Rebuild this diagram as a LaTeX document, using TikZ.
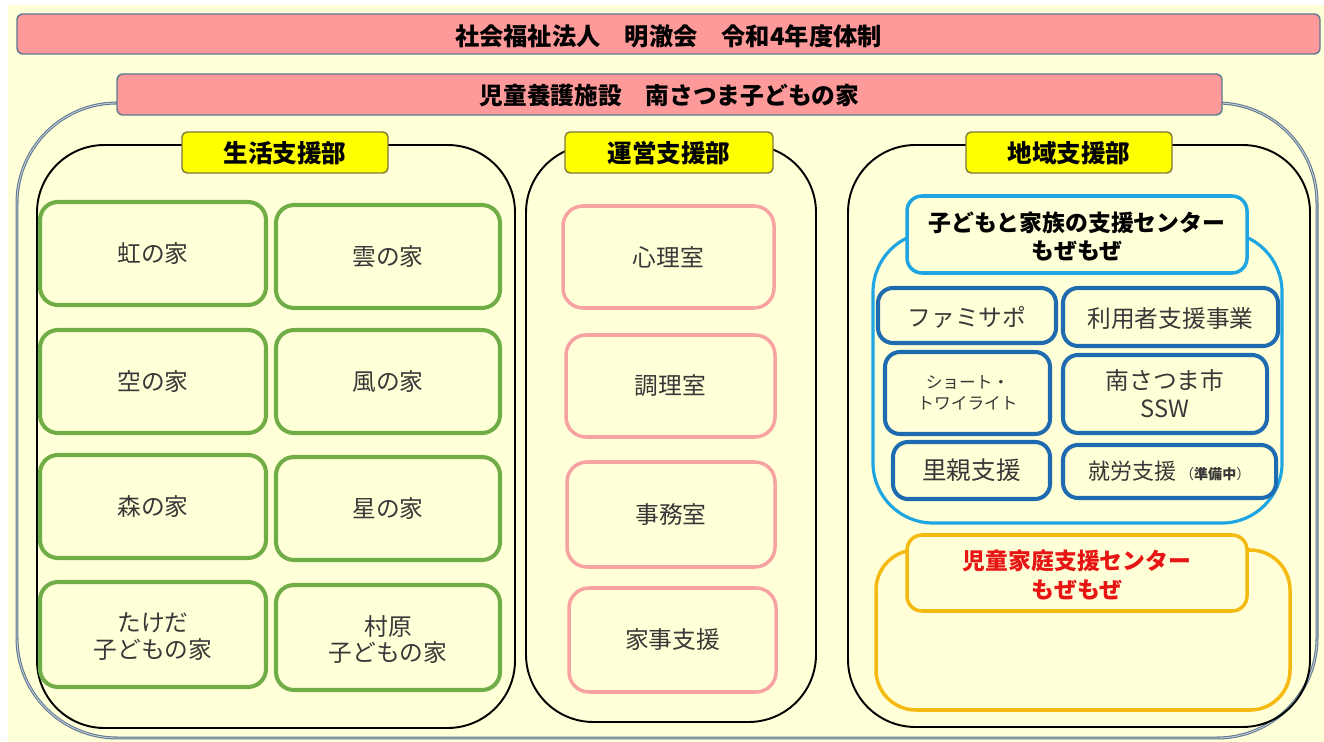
\documentclass[tikz,border=0pt]{standalone}
\usepackage{fontspec}
\setmainfont{Noto Sans CJK JP}
\usepackage{tikz}
\usetikzlibrary{fit,backgrounds}
\definecolor{bgyellow}{HTML}{FFFFD8}
\definecolor{barpink}{HTML}{FF9A9A}
\definecolor{barline}{HTML}{5F7890}
\definecolor{deptyellow}{HTML}{FFFF00}
\definecolor{deptline}{HTML}{7A7A3A}
\definecolor{homegreen}{HTML}{70AD47}
\definecolor{roompink}{HTML}{F7A3A3}
\definecolor{centerblue}{HTML}{1EA5E2}
\definecolor{workblue}{HTML}{1F6BB0}
\definecolor{famorange}{HTML}{F5BA12}
\definecolor{famred}{HTML}{E81515}
\definecolor{txtgray}{HTML}{383838}

\begin{document}
\begin{tikzpicture}[x=0.02cm,y=-0.02cm,
  bar/.style={fill=barpink,draw=barline,line width=0.8pt,rounded corners=0.12cm,inner sep=0pt},
  dept/.style={draw=black,line width=1.1pt,rounded corners=1.35cm,inner sep=0pt},
  deptlabel/.style={fill=deptyellow,draw=deptline,line width=0.8pt,rounded corners=0.1cm,inner sep=0pt},
  home/.style={draw=homegreen,line width=2.3pt,rounded corners=0.36cm,inner sep=0pt},
  room/.style={draw=roompink,line width=2pt,rounded corners=0.4cm,inner sep=0pt},
  work/.style={draw=workblue,line width=2.3pt,rounded corners=0.3cm,inner sep=0pt},
  centerhead/.style={fill=bgyellow,line width=2pt,rounded corners=0.3cm,inner sep=0pt},
  boldtext/.style={inner sep=0pt,align=center,font=\bfseries\fontsize{14}{16}\selectfont},
  plaintext/.style={inner sep=0pt,align=center,text=txtgray,font=\fontsize{13.5}{15}\selectfont}]

\useasboundingbox (0,0) rectangle (1324,742);
\fill[bgyellow] (8,5) rectangle (1324,742);

% whole facility
\node[fit={(17,103) (1317,738)},inner sep=0pt,rounded corners=2cm,draw=barline,double=barline!35,double distance=0.5pt,line width=0.6pt] (facility) {};
\node[bar,fit={(17,14) (1320,54)}] (corp) {};
\node[boldtext,font=\bfseries\fontsize{13.8}{16}\selectfont] (corptext) at ([yshift=-1.1pt]corp.center) {社会福祉法人　明澈会　令和4年度体制};
\node[bar,fit={(117,74) (1222,115)}] (home) {};
\node[boldtext,font=\bfseries\fontsize{13.5}{16}\selectfont] (hometext) at ([yshift=-0.6pt]home.center) {児童養護施設　南さつま子どもの家};

% departments
\node[dept,fit={(37,145) (515,728)}] (life) {};
\node[dept,fit={(526,145) (816,722)}] (admin) {};
\node[dept,fit={(848,145) (1310,727)}] (region) {};
\node[deptlabel,fit={(182,132) (388,173)}] (lifehead) {};
\node[boldtext] (lifetext) at ([yshift=-0.6pt]lifehead.center) {生活支援部};
\node[deptlabel,fit={(565,132) (773,173)}] (adminhead) {};
\node[boldtext] (admintext) at ([yshift=-0.6pt]adminhead.center) {運営支援部};
\node[deptlabel,fit={(966,132) (1172,173)}] (regionhead) {};
\node[boldtext] (regiontext) at ([yshift=-0.6pt]regionhead.center) {地域支援部};

% homes
\node[home,fit={(40,202) (266,305)}] (niji) {};
\node[plaintext] (nijitext) at (niji.center) {虹の家};
\node[home,fit={(276,205) (500,308)}] (kumo) {};
\node[plaintext] (kumotext) at (kumo.center) {雲の家};
\node[home,fit={(40,330) (266,433)}] (sora) {};
\node[plaintext] (soratext) at (sora.center) {空の家};
\node[home,fit={(276,330) (500,433)}] (kaze) {};
\node[plaintext] (kazetext) at (kaze.center) {風の家};
\node[home,fit={(40,455) (266,558)}] (mori) {};
\node[plaintext] (moritext) at (mori.center) {森の家};
\node[home,fit={(276,457) (500,560)}] (hoshi) {};
\node[plaintext] (hoshitext) at (hoshi.center) {星の家};
\node[home,fit={(40,582) (266,687)}] (takeda) {};
\node[plaintext] (takedatext) at ([yshift=-1.1pt]takeda.center) {たけだ\\子どもの家};
\node[home,fit={(276,585) (500,690)}] (murahara) {};
\node[plaintext] (muraharatext) at ([yshift=-1.1pt]murahara.center) {村原\\子どもの家};

% rooms
\node[room,fit={(563,206) (774,308)}] (shinri) {};
\node[plaintext] (shinritext) at (shinri.center) {心理室};
\node[room,fit={(566,335) (775,437)}] (chouri) {};
\node[plaintext] (chouritext) at (chouri.center) {調理室};
\node[room,fit={(567,462) (775,567)}] (jimu) {};
\node[plaintext] (jimutext) at (jimu.center) {事務室};
\node[room,fit={(569,588) (776,692)}] (kaji) {};
\node[plaintext] (kajitext) at (kaji.center) {家事支援};

% support center
\node[fit={(873,232) (1282,523)},inner sep=0pt,draw=centerblue,line width=1.8pt,rounded corners=1.2cm] (center) {};
\node[centerhead,draw=centerblue,fit={(907,196) (1247,273)}] (centerhead) {};
\node[boldtext,font=\bfseries\fontsize{13}{16}\selectfont] (centertext) at ([yshift=-1.1pt]centerhead.center) {子どもと家族の支援センター\\もぜもぜ};
\node[work,fit={(878,288) (1056,343)}] (famisapo) {};
\node[plaintext] (famisapotext) at ([yshift=-1.1pt]famisapo.center) {ファミサポ};
\node[work,fit={(1063,288) (1278,346)}] (riyousha) {};
\node[plaintext] (riyoushatext) at ([yshift=-1.1pt]riyousha.center) {利用者支援事業};
\node[work,fit={(885,352) (1050,434)}] (short) {};
\node[plaintext,font=\fontsize{9.5}{12}\selectfont] (shorttext) at (short.center) {ショート・\\トワイライト};
\node[work,fit={(1063,355) (1267,433)}] (ssw) {};
\node[plaintext,font=\fontsize{13.5}{16}\selectfont] (sswtext) at (ssw.center) {南さつま市\\SSW};
\node[work,fit={(893,442) (1050,499)}] (satooya) {};
\node[plaintext,font=\fontsize{14}{16}\selectfont] (satooyatext) at (satooya.center) {里親支援};
\node[work,fit={(1063,445) (1276,498)}] (shuurou) {};
\node[plaintext,font=\fontsize{12.5}{16}\selectfont] (shuuroutext) at (shuurou.center) {就労支援\,{\fontsize{8}{10}\selectfont（\textbf{準備中}）}};

% child family support center
\node[fit={(876,550) (1290,710)},inner sep=0pt,draw=famorange,line width=2pt,rounded corners=0.8cm] (family) {};
\node[centerhead,draw=famorange,fit={(907,535) (1247,611)}] (familyhead) {};
\node[boldtext,text=famred,font=\bfseries\fontsize{13}{16.5}\selectfont] (familytext) at ([yshift=-1.1pt]familyhead.center) {児童家庭支援センター\\もぜもぜ};
\end{tikzpicture}
\end{document}
